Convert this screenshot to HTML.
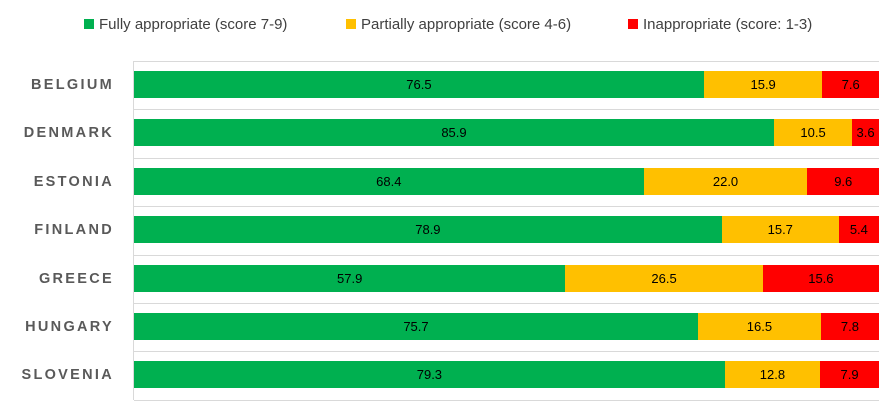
<!DOCTYPE html><html><head><style>
body{margin:0;width:887px;height:408px;background:#fff;font-family:"Liberation Sans",sans-serif;position:relative;overflow:hidden}
.lg{position:absolute;top:16px;font-size:15px;color:#404040;white-space:nowrap}
.lg i{display:inline-block;width:10px;height:10px;margin-right:5px;vertical-align:0}
.lab{position:absolute;right:773px;font-size:14.5px;font-weight:bold;letter-spacing:2.3px;color:#595959;line-height:20px}
.bar{position:absolute;height:27px;font-size:13px;color:#000;text-align:center;line-height:27px}
.grid{position:absolute;left:134px;width:745px;height:1px;background:#d9d9d9}
</style></head><body>
<div class="lg" style="left:84px"><i style="background:#00b050"></i>Fully appropriate (score 7-9)</div>
<div class="lg" style="left:346px"><i style="background:#ffc000"></i>Partially appropriate (score 4-6)</div>
<div class="lg" style="left:628px"><i style="background:#ff0000"></i>Inappropriate (score: 1-3)</div>
<div style="position:absolute;left:133px;top:61px;width:1px;height:339px;background:#d9d9d9"></div>
<div id="c"></div>
<script>
var d=[["BELGIUM",76.5,15.9,7.6],["DENMARK",85.9,10.5,3.6],["ESTONIA",68.4,22.0,9.6],["FINLAND",78.9,15.7,5.4],["GREECE",57.9,26.5,15.6],["HUNGARY",75.7,16.5,7.8],["SLOVENIA",79.3,12.8,7.9]];
var h="",W=745,L=134;
for(var i=0;i<=7;i++)h+='<div class="grid" style="top:'+(61+i*48.4)+'px"></div>';
d.forEach(function(r,i){var t=71+i*48.4;h+='<div class="lab" style="top:'+(t+4)+'px">'+r[0]+'</div>';
var x=L,cs=["#00b050","#ffc000","#ff0000"];var tot=r[1]+r[2]+r[3];
for(var k=0;k<3;k++){var w=r[k+1]/tot*W;h+='<div class="bar" style="left:'+x+'px;width:'+w+'px;top:'+t+'px;background:'+cs[k]+'">'+r[k+1].toFixed(1)+'</div>';x+=w;}});
document.getElementById("c").innerHTML=h;
</script>
</body></html>
